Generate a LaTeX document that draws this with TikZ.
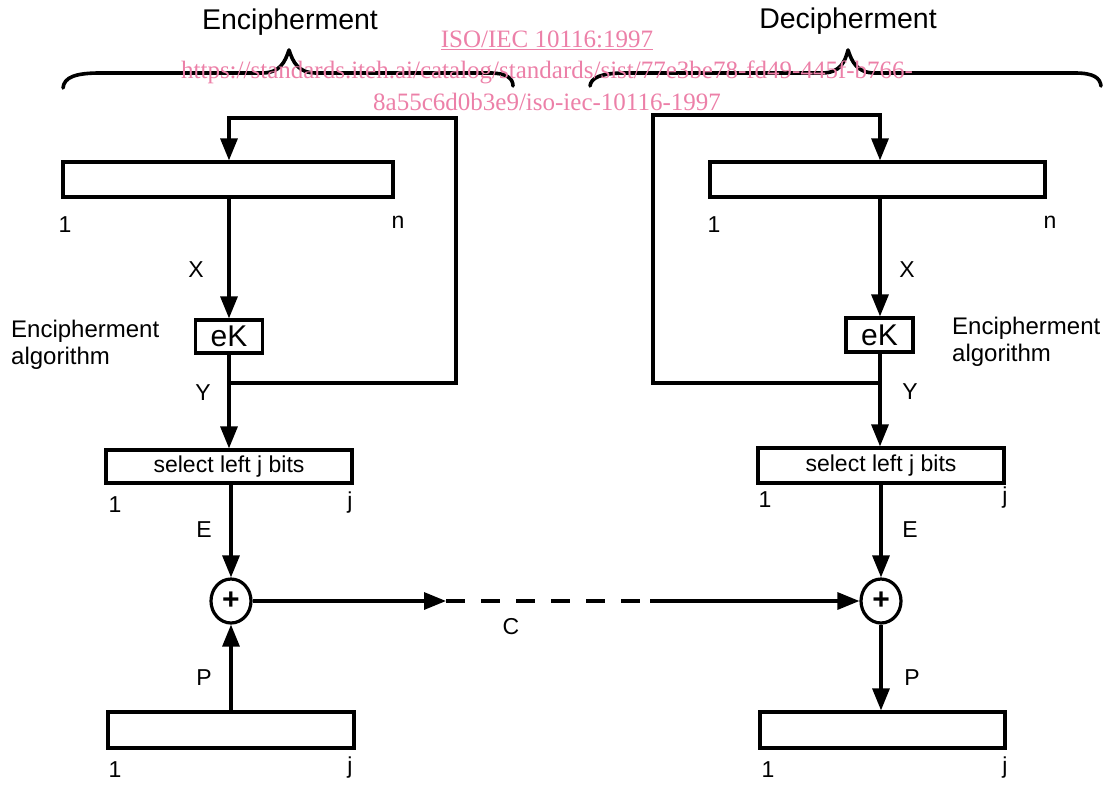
\documentclass[tikz,border=0pt]{standalone}
\usepackage{fontspec}
\setmainfont{Liberation Sans}
\newfontfamily\wmfont{Liberation Serif}
\usetikzlibrary{arrows.meta,shapes.geometric}
\definecolor{wmpink}{RGB}{236,128,168}
\tikzset{
  line/.style={line width=3.2pt, line join=miter},
  arr/.style={line, -{Triangle[length=22pt,width=17pt]}},
  box/.style={draw, line width=3.2pt, rectangle, inner sep=0pt, font=\fontsize{23}{24}\selectfont},
  xorn/.style={draw, line width=3.2pt, ellipse, minimum width=40pt, minimum height=44pt, inner sep=0pt, font=\bfseries\fontsize{30}{30}\selectfont},
  lbl/.style={inner sep=0pt, font=\fontsize{23}{24}\selectfont},
  hdr/.style={inner sep=0pt, font=\fontsize{28.5}{30}\selectfont},
  alg/.style={inner sep=0pt, align=left, anchor=north west, font=\fontsize{24}{27}\selectfont},
  wm/.style={inner sep=0pt, text=wmpink, font=\wmfont\fontsize{25}{26}\selectfont},
  bracestyle/.style={line width=3.6pt, line cap=round, line join=round},
}
\begin{document}
\begin{tikzpicture}[x=1pt,y=-1pt]
\useasboundingbox (0,0) rectangle (1105,784);

% headers and braces
\node[hdr] (hEnc) at (290,22) {Encipherment};
\node[hdr] (hDec) at (848,21) {Decipherment};
\draw[bracestyle] (63,88) .. controls (64,77) and (76,73) .. (100,73) -- (262,73)
  .. controls (280,73) and (285,62) .. (289,50) .. controls (293,62) and (298,73) .. (316,73)
  -- (490,73) .. controls (506,73) and (513,78) .. (513,86);
\draw[bracestyle] (590,86) .. controls (591,78) and (600,73) .. (625,73) -- (822,73)
  .. controls (840,73) and (845,62) .. (848,50) .. controls (852,62) and (857,73) .. (875,73)
  -- (1075,73) .. controls (1094,73) and (1100,78) .. (1101,86);

% left column (encipherment)
\node[box, minimum width=330pt, minimum height=35pt] (topL) at (228,179.5) {};
\node[box, minimum width=67pt, minimum height=33pt, font=\fontsize{30}{30}\selectfont] (eKL) at (229,336.5) {eK};
\node[box, minimum width=246pt, minimum height=33pt] (selL) at (229,466.5) {select left j bits};
\node[xorn] (xorL) at (231,601) {+};
\node[box, minimum width=246pt, minimum height=36pt] (botL) at (231,730) {};
\coordinate (yL) at (229,383);
\coordinate (fbLa) at (456,383);
\coordinate (fbLb) at (456,118);
\coordinate (fbLc) at (229,118);

\node[lbl] (oneL1) at (65,225) {1};
\node[lbl] (nL) at (398,222) {n};
\node[lbl] (xL) at (196,270) {X};
\node[alg] (algL) at (11,320) {Encipherment\\algorithm};
\node[lbl] (yLl) at (203,393) {Y};
\node[lbl] (oneL2) at (115,505) {1};
\node[lbl] (jL2) at (350,503) {j};
\node[lbl] (eL) at (204,530) {E};
\node[lbl] (pL) at (204,678) {P};
\node[lbl] (oneL3) at (115,770) {1};
\node[lbl] (jL3) at (350,768) {j};

\draw[arr] (topL.south -| eKL) -- (eKL);
\draw[line] (eKL) -- (yL);
\draw[arr] (yL) -- (selL);
\draw[arr] (yL) -- (fbLa) -- (fbLb) -- (fbLc) -- (topL.north -| fbLc);
\draw[arr] (selL.south -| xorL) -- (xorL);
\draw[arr] (botL.north -| xorL) -- (xorL);

% right column (decipherment)
\node[box, minimum width=335pt, minimum height=35pt] (topR) at (877.5,179.5) {};
\node[box, minimum width=67pt, minimum height=34pt, font=\fontsize{30}{30}\selectfont] (eKR) at (879.5,335) {eK};
\node[box, minimum width=246pt, minimum height=35pt] (selR) at (881,465.5) {select left j bits};
\node[xorn] (xorR) at (881,601) {+};
\node[box, minimum width=245pt, minimum height=36pt] (botR) at (882.5,730) {};
\coordinate (yR) at (880,383);
\coordinate (fbRa) at (653,383);
\coordinate (fbRb) at (653,115);
\coordinate (fbRc) at (880,115);

\node[lbl] (oneR1) at (714,225) {1};
\node[lbl] (nR) at (1050,222) {n};
\node[lbl] (xR) at (907,270) {X};
\node[alg] (algR) at (952,317) {Encipherment\\algorithm};
\node[lbl] (yRl) at (910,392) {Y};
\node[lbl] (oneR2) at (765,500) {1};
\node[lbl] (jR2) at (1005,498) {j};
\node[lbl] (eR) at (910,530) {E};
\node[lbl] (pR) at (912,678) {P};
\node[lbl] (oneR3) at (768,770) {1};
\node[lbl] (jR3) at (1005,768) {j};

\draw[arr] (topR.south -| yR) -- (eKR.north -| yR);
\draw[line] (eKR.south -| yR) -- (yR);
\draw[arr] (yR) -- (selR.north -| yR);
\draw[arr] (yR) -- (fbRa) -- (fbRb) -- (fbRc) -- (topR.north -| fbRc);
\draw[arr] (selR.south -| xorR) -- (xorR);
\draw[arr] (xorR) -- (botR.north -| xorR);

% ciphertext channel
\coordinate (cA) at (446,601);
\coordinate (cB) at (650,601);
\draw[arr] (xorL) -- (cA);
\draw[line, dash pattern=on 19pt off 16pt] (cA) -- (cB);
\draw[arr] (cB) -- (xorR);
\node[lbl] (cL) at (511,627) {C};

% watermark
\node[wm] (wm1) at (547,40) {\underline{ISO/IEC 10116:1997}};
\node[wm] (wm2) at (547,72) {https://standards.iteh.ai/catalog/standards/sist/77e3be78-fd49-445f-b766-};
\node[wm] (wm3) at (547,102) {8a55c6d0b3e9/iso-iec-10116-1997};
\end{tikzpicture}
\end{document}
